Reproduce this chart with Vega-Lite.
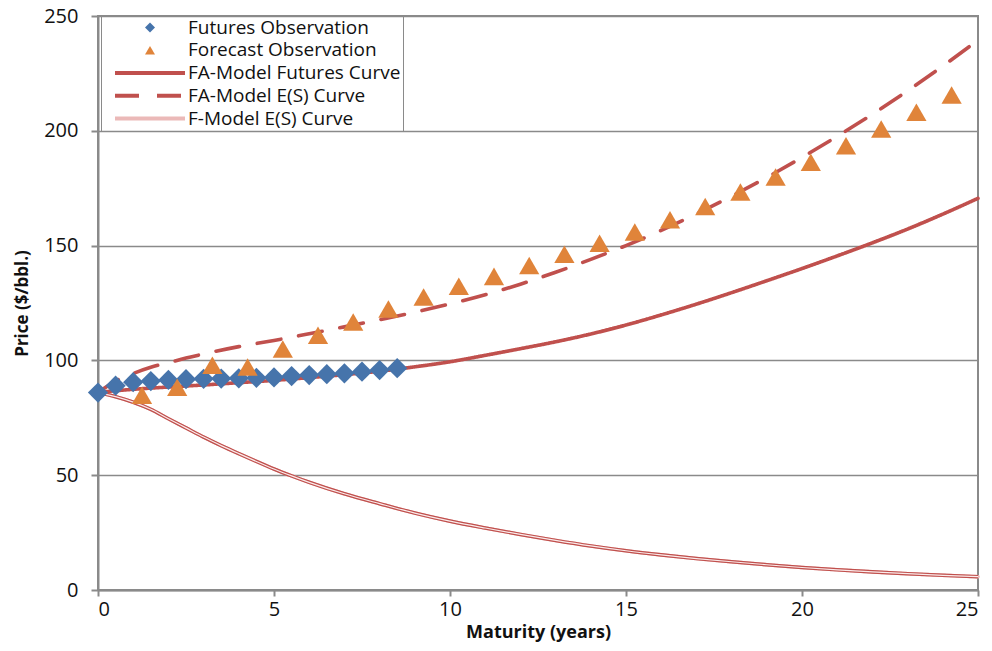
{
  "$schema": "https://vega.github.io/schema/vega-lite/v6.json",
  "width": 880,
  "height": 574,
  "autosize": {"type": "none"},
  "padding": {"left": 98, "top": 16, "right": 14, "bottom": 61},
  "background": "white",
  "config": {
    "font": "Open Sans",
    "view": {"stroke": "#8a8a8a", "strokeWidth": 2},
    "axis": {
      "labelFont": "Open Sans", "titleFont": "Open Sans",
      "labelColor": "#111", "titleColor": "#111",
      "domainColor": "#8a8a8a", "domainWidth": 2,
      "tickColor": "#8a8a8a", "tickWidth": 2,
      "gridColor": "#8a8a8a", "gridWidth": 1.6
    },
    "legend": {
      "labelFont": "Open Sans", "labelFontSize": 19, "labelColor": "#111", "labelLimit": 400,
      "padding": 2, "rowPadding": 2.75,
      "symbolOffset": 37.5, "labelOffset": 28.5,
      "symbolSize": 100
    }
  },
  "data": {"values": [
    {"series": "Futures Observation", "t": 0, "price": 86},
    {"series": "Futures Observation", "t": 0.5, "price": 89},
    {"series": "Futures Observation", "t": 1, "price": 90.5},
    {"series": "Futures Observation", "t": 1.5, "price": 91},
    {"series": "Futures Observation", "t": 2, "price": 91.5},
    {"series": "Futures Observation", "t": 2.5, "price": 91.8},
    {"series": "Futures Observation", "t": 3, "price": 92},
    {"series": "Futures Observation", "t": 3.5, "price": 92.1},
    {"series": "Futures Observation", "t": 4, "price": 92.2},
    {"series": "Futures Observation", "t": 4.5, "price": 92.4},
    {"series": "Futures Observation", "t": 5, "price": 92.6},
    {"series": "Futures Observation", "t": 5.5, "price": 93.2},
    {"series": "Futures Observation", "t": 6, "price": 93.6},
    {"series": "Futures Observation", "t": 6.5, "price": 94},
    {"series": "Futures Observation", "t": 7, "price": 94.4},
    {"series": "Futures Observation", "t": 7.5, "price": 95.1},
    {"series": "Futures Observation", "t": 8, "price": 95.8},
    {"series": "Futures Observation", "t": 8.5, "price": 96.6},
    {"series": "Forecast Observation", "t": 1.25, "price": 84.8},
    {"series": "Forecast Observation", "t": 2.25, "price": 88.3},
    {"series": "Forecast Observation", "t": 3.25, "price": 97.9},
    {"series": "Forecast Observation", "t": 4.25, "price": 97.1},
    {"series": "Forecast Observation", "t": 5.25, "price": 105},
    {"series": "Forecast Observation", "t": 6.25, "price": 111},
    {"series": "Forecast Observation", "t": 7.25, "price": 116.7},
    {"series": "Forecast Observation", "t": 8.25, "price": 122.4},
    {"series": "Forecast Observation", "t": 9.25, "price": 127.6},
    {"series": "Forecast Observation", "t": 10.25, "price": 132.3},
    {"series": "Forecast Observation", "t": 11.25, "price": 136.6},
    {"series": "Forecast Observation", "t": 12.25, "price": 141.3},
    {"series": "Forecast Observation", "t": 13.25, "price": 146.2},
    {"series": "Forecast Observation", "t": 14.25, "price": 151},
    {"series": "Forecast Observation", "t": 15.25, "price": 155.9},
    {"series": "Forecast Observation", "t": 16.25, "price": 161.3},
    {"series": "Forecast Observation", "t": 17.25, "price": 167},
    {"series": "Forecast Observation", "t": 18.25, "price": 173.3},
    {"series": "Forecast Observation", "t": 19.25, "price": 179.9},
    {"series": "Forecast Observation", "t": 20.25, "price": 186.3},
    {"series": "Forecast Observation", "t": 21.25, "price": 193.5},
    {"series": "Forecast Observation", "t": 22.25, "price": 200.8},
    {"series": "Forecast Observation", "t": 23.25, "price": 208.1},
    {"series": "Forecast Observation", "t": 24.25, "price": 215.6},
    {"series": "FA-Model Futures Curve", "t": 0, "price": 86},
    {"series": "FA-Model Futures Curve", "t": 0.5, "price": 86.8},
    {"series": "FA-Model Futures Curve", "t": 1, "price": 87.4},
    {"series": "FA-Model Futures Curve", "t": 2, "price": 88.4},
    {"series": "FA-Model Futures Curve", "t": 3, "price": 89.3},
    {"series": "FA-Model Futures Curve", "t": 4, "price": 90.3},
    {"series": "FA-Model Futures Curve", "t": 5, "price": 91.3},
    {"series": "FA-Model Futures Curve", "t": 6, "price": 92.5},
    {"series": "FA-Model Futures Curve", "t": 7, "price": 93.8},
    {"series": "FA-Model Futures Curve", "t": 8, "price": 95.3},
    {"series": "FA-Model Futures Curve", "t": 9, "price": 97.2},
    {"series": "FA-Model Futures Curve", "t": 10, "price": 99.4},
    {"series": "FA-Model Futures Curve", "t": 11, "price": 102.2},
    {"series": "FA-Model Futures Curve", "t": 12, "price": 105.1},
    {"series": "FA-Model Futures Curve", "t": 13, "price": 108.1},
    {"series": "FA-Model Futures Curve", "t": 14, "price": 111.5},
    {"series": "FA-Model Futures Curve", "t": 15, "price": 115.4},
    {"series": "FA-Model Futures Curve", "t": 16, "price": 119.8},
    {"series": "FA-Model Futures Curve", "t": 17, "price": 124.5},
    {"series": "FA-Model Futures Curve", "t": 18, "price": 129.5},
    {"series": "FA-Model Futures Curve", "t": 19, "price": 134.7},
    {"series": "FA-Model Futures Curve", "t": 20, "price": 140},
    {"series": "FA-Model Futures Curve", "t": 21, "price": 145.5},
    {"series": "FA-Model Futures Curve", "t": 22, "price": 151.2},
    {"series": "FA-Model Futures Curve", "t": 23, "price": 157.2},
    {"series": "FA-Model Futures Curve", "t": 24, "price": 163.7},
    {"series": "FA-Model Futures Curve", "t": 25, "price": 170.6},
    {"series": "FA-Model E(S) Curve", "t": 0, "price": 86},
    {"series": "FA-Model E(S) Curve", "t": 0.5, "price": 91},
    {"series": "FA-Model E(S) Curve", "t": 1, "price": 94.3},
    {"series": "FA-Model E(S) Curve", "t": 1.5, "price": 97},
    {"series": "FA-Model E(S) Curve", "t": 2, "price": 99},
    {"series": "FA-Model E(S) Curve", "t": 2.5, "price": 101},
    {"series": "FA-Model E(S) Curve", "t": 3, "price": 102.8},
    {"series": "FA-Model E(S) Curve", "t": 4, "price": 106},
    {"series": "FA-Model E(S) Curve", "t": 5, "price": 108.7},
    {"series": "FA-Model E(S) Curve", "t": 6, "price": 111.6},
    {"series": "FA-Model E(S) Curve", "t": 7, "price": 114.6},
    {"series": "FA-Model E(S) Curve", "t": 8, "price": 117.7},
    {"series": "FA-Model E(S) Curve", "t": 9, "price": 121},
    {"series": "FA-Model E(S) Curve", "t": 10, "price": 124.6},
    {"series": "FA-Model E(S) Curve", "t": 11, "price": 128.6},
    {"series": "FA-Model E(S) Curve", "t": 12, "price": 133.2},
    {"series": "FA-Model E(S) Curve", "t": 13, "price": 138.4},
    {"series": "FA-Model E(S) Curve", "t": 14, "price": 144},
    {"series": "FA-Model E(S) Curve", "t": 15, "price": 150},
    {"series": "FA-Model E(S) Curve", "t": 16, "price": 156.6},
    {"series": "FA-Model E(S) Curve", "t": 17, "price": 163.8},
    {"series": "FA-Model E(S) Curve", "t": 18, "price": 171.5},
    {"series": "FA-Model E(S) Curve", "t": 19, "price": 179.7},
    {"series": "FA-Model E(S) Curve", "t": 20, "price": 188.4},
    {"series": "FA-Model E(S) Curve", "t": 21, "price": 197.6},
    {"series": "FA-Model E(S) Curve", "t": 22, "price": 207.2},
    {"series": "FA-Model E(S) Curve", "t": 23, "price": 217.4},
    {"series": "FA-Model E(S) Curve", "t": 24, "price": 228.2},
    {"series": "FA-Model E(S) Curve", "t": 25, "price": 239.5},
    {"series": "F-Model E(S) Curve", "t": 0, "price": 86},
    {"series": "F-Model E(S) Curve", "t": 0.5, "price": 84.2},
    {"series": "F-Model E(S) Curve", "t": 1, "price": 81.8},
    {"series": "F-Model E(S) Curve", "t": 1.5, "price": 78.7},
    {"series": "F-Model E(S) Curve", "t": 2, "price": 74.6},
    {"series": "F-Model E(S) Curve", "t": 2.5, "price": 70.6},
    {"series": "F-Model E(S) Curve", "t": 3, "price": 66.6},
    {"series": "F-Model E(S) Curve", "t": 3.5, "price": 62.9},
    {"series": "F-Model E(S) Curve", "t": 4, "price": 59.4},
    {"series": "F-Model E(S) Curve", "t": 4.5, "price": 56},
    {"series": "F-Model E(S) Curve", "t": 5, "price": 52.7},
    {"series": "F-Model E(S) Curve", "t": 5.5, "price": 49.7},
    {"series": "F-Model E(S) Curve", "t": 6, "price": 46.9},
    {"series": "F-Model E(S) Curve", "t": 7, "price": 41.9},
    {"series": "F-Model E(S) Curve", "t": 8, "price": 37.6},
    {"series": "F-Model E(S) Curve", "t": 9, "price": 33.5},
    {"series": "F-Model E(S) Curve", "t": 10, "price": 30},
    {"series": "F-Model E(S) Curve", "t": 11, "price": 27},
    {"series": "F-Model E(S) Curve", "t": 12, "price": 24.2},
    {"series": "F-Model E(S) Curve", "t": 13, "price": 21.6},
    {"series": "F-Model E(S) Curve", "t": 14, "price": 19.2},
    {"series": "F-Model E(S) Curve", "t": 15, "price": 17.1},
    {"series": "F-Model E(S) Curve", "t": 16, "price": 15.3},
    {"series": "F-Model E(S) Curve", "t": 17, "price": 13.7},
    {"series": "F-Model E(S) Curve", "t": 18, "price": 12.3},
    {"series": "F-Model E(S) Curve", "t": 19, "price": 11},
    {"series": "F-Model E(S) Curve", "t": 20, "price": 9.8},
    {"series": "F-Model E(S) Curve", "t": 21, "price": 8.8},
    {"series": "F-Model E(S) Curve", "t": 22, "price": 7.9},
    {"series": "F-Model E(S) Curve", "t": 23, "price": 7.1},
    {"series": "F-Model E(S) Curve", "t": 24, "price": 6.4},
    {"series": "F-Model E(S) Curve", "t": 25, "price": 5.8}
  ]},
  "encoding": {
    "x": {
      "field": "t", "type": "quantitative",
      "scale": {"domain": [0, 25], "nice": false},
      "axis": {
        "values": [0, 5, 10, 15, 20, 25], "grid": false,
        "tickSize": 6, "labelFontSize": 20, "labelPadding": 3,
        "title": "Maturity (years)", "titleFontSize": 18, "titleFontWeight": "bold", "titlePadding": 4
      }
    },
    "y": {
      "field": "price", "type": "quantitative",
      "scale": {"domain": [0, 250], "nice": false},
      "axis": {
        "values": [0, 50, 100, 150, 200, 250], "grid": true,
        "tickSize": 7, "labelFontSize": 20, "labelPadding": 13,
        "title": "Price ($/bbl.)", "titleFontSize": 17, "titleFontWeight": "bold", "titlePadding": 12
      }
    }
  },
  "layer": [
    {
      "transform": [{"filter": "indexof(['FA-Model Futures Curve', 'FA-Model E(S) Curve', 'F-Model E(S) Curve'], datum.series) >= 0"}],
      "mark": {"type": "line", "strokeCap": "round", "strokeWidth": 3.6, "interpolate": "monotone"},
      "encoding": {
        "stroke": {
          "field": "series", "type": "nominal",
          "scale": {"domain": ["FA-Model Futures Curve", "FA-Model E(S) Curve", "F-Model E(S) Curve"], "range": ["#C0504D", "#C0504D", "#EBB9B8"]},
          "legend": {"title": null, "orient": "none", "legendX": 3, "legendY": 45.5, "symbolType": "M-7,0H7", "symbolStrokeWidth": 4, "labelOpacity": 0, "labelExpr": "' '"}
        },
        "strokeDash": {
          "field": "series", "type": "nominal",
          "scale": {"domain": ["FA-Model Futures Curve", "FA-Model E(S) Curve", "F-Model E(S) Curve"], "range": [[1, 0], [24, 18], [1, 0]]},
          "legend": {"title": null, "orient": "none", "legendX": 3, "legendY": 45.5, "symbolType": "M-7,0H7", "symbolStrokeWidth": 4, "labelOpacity": 0, "labelExpr": "' '"}
        }
      }
    },
    {
      "transform": [{"filter": "datum.series === 'F-Model E(S) Curve'"}],
      "mark": {"type": "line", "stroke": "#C0504D", "strokeWidth": 3.6, "interpolate": "monotone"}
    },
    {
      "transform": [{"filter": "datum.series === 'F-Model E(S) Curve'"}],
      "mark": {"type": "line", "stroke": "#FBEBEB", "strokeWidth": 1.2, "interpolate": "monotone"}
    },
    {
      "transform": [{"filter": "datum.series === 'Futures Observation' || datum.series === 'Forecast Observation'"}],
      "mark": {"type": "point", "filled": true, "opacity": 1, "size": 410, "strokeWidth": 0},
      "encoding": {
        "fill": {
          "field": "series", "type": "nominal",
          "scale": {"domain": ["Futures Observation", "Forecast Observation", "FA-Model Futures Curve", "FA-Model E(S) Curve", "F-Model E(S) Curve"], "range": ["#4674AB", "#E0843A", "transparent", "transparent", "transparent"]},
          "legend": {"title": null, "orient": "none", "legendX": 3, "legendY": 0, "strokeColor": "#8a8a8a"}
        },
        "shape": {
          "field": "series", "type": "nominal",
          "scale": {"domain": ["Futures Observation", "Forecast Observation", "FA-Model Futures Curve", "FA-Model E(S) Curve", "F-Model E(S) Curve"], "range": ["diamond", "triangle-up", "M-7,0H7", "M-7,0H7", "M-7,0H7"]},
          "legend": {"title": null, "orient": "none", "legendX": 3, "legendY": 0, "strokeColor": "#8a8a8a"}
        }
      }
    }
  ]
}
